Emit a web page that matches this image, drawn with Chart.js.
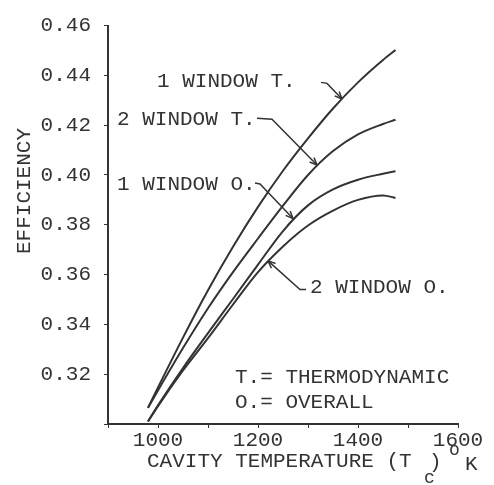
<!DOCTYPE html>
<html>
<head>
<meta charset="utf-8">
<title>Efficiency vs cavity temperature</title>
<script src="https://cdn.jsdelivr.net/npm/chart.js@4/dist/chart.umd.min.js"></script>
<style>
  body { margin: 0; background: #ffffff; }
  #grafico { display: block; }
</style>
</head>
<body>
<canvas id="grafico" width="494" height="485"></canvas>
<script>
// Dados (temperatura em K, eficiencia)
const temperaturas = [980, 1000, 1050, 1100, 1150, 1200, 1250, 1300, 1350, 1400, 1450, 1475];
const umaJanelaT = [0.3065, 0.3147, 0.3347, 0.3537, 0.3712, 0.3872, 0.4017, 0.4147, 0.4267, 0.4372, 0.4462, 0.4502];
const duasJanelasT = [0.3065, 0.3135, 0.3305, 0.3465, 0.3610, 0.3745, 0.3877, 0.4000, 0.4096, 0.4163, 0.4205, 0.4222];
const umaJanelaO = [0.3010, 0.3075, 0.3225, 0.3365, 0.3502, 0.3640, 0.3775, 0.3878, 0.3942, 0.3981, 0.4005, 0.4015];
const duasJanelasO = [0.3010, 0.3072, 0.3215, 0.3345, 0.3480, 0.3610, 0.3713, 0.3797, 0.3857, 0.3900, 0.3918, 0.3908];

// Marcas dos eixos
const ticksX = [1000, 1200, 1400, 1600];
const ticksY = [0.32, 0.34, 0.36, 0.38, 0.40, 0.42, 0.44, 0.46];

// Rotulos das curvas, com posicao e linha de chamada em unidades do grafico
const rotulos = ['1 WINDOW T.', '2 WINDOW T.', '1 WINDOW O.', '2 WINDOW O.'];
const posRotulos = [[998, 0.4376], [918, 0.4224], [918, 0.3964], [1304, 0.3548]];
const chamadas = [
  [[1326, 0.4372], [1338, 0.4368], [1368, 0.4305]],
  [[1198, 0.4228], [1228, 0.4224], [1318, 0.4040]],
  [[1194, 0.3968], [1204, 0.3964], [1270, 0.3825]],
  [[1296, 0.3540], [1284, 0.3540], [1220, 0.3655]]
];
const legenda = ['T.= THERMODYNAMIC', 'O.= OVERALL'];
const posLegenda = [[1154, 0.3188], [1154, 0.3088]];

const cor = '#333333';
const fonte = "'Liberation Mono', 'DejaVu Sans Mono', monospace";

function pontos(valores) {
  return temperaturas.map((t, i) => ({ x: t, y: valores[i] }));
}

function serie(valores) {
  return {
    data: pontos(valores),
    borderColor: cor,
    borderWidth: 2,
    pointRadius: 0,
    cubicInterpolationMode: 'monotone',
    fill: false
  };
}

// Desenha uma seta simples na ponta da chamada
function seta(ctx, x0, y0, x1, y1) {
  const ang = Math.atan2(y1 - y0, x1 - x0);
  const tam = 8;
  ctx.beginPath();
  ctx.moveTo(x1, y1);
  ctx.lineTo(x1 - tam * Math.cos(ang - 0.4), y1 - tam * Math.sin(ang - 0.4));
  ctx.moveTo(x1, y1);
  ctx.lineTo(x1 - tam * Math.cos(ang + 0.4), y1 - tam * Math.sin(ang + 0.4));
  ctx.stroke();
}

const anotacoes = {
  id: 'anotacoes',
  afterDraw(chart) {
    const ctx = chart.ctx;
    const sx = chart.scales.x;
    const sy = chart.scales.y;
    ctx.save();
    ctx.fillStyle = cor;
    ctx.strokeStyle = cor;
    ctx.lineWidth = 1.5;
    ctx.font = '21px ' + fonte;
    ctx.textBaseline = 'middle';
    ctx.textAlign = 'left';

    rotulos.forEach((txt, i) => {
      ctx.fillText(txt, sx.getPixelForValue(posRotulos[i][0]), sy.getPixelForValue(posRotulos[i][1]));
      const pts = chamadas[i].map(p => [sx.getPixelForValue(p[0]), sy.getPixelForValue(p[1])]);
      ctx.beginPath();
      ctx.moveTo(pts[0][0], pts[0][1]);
      for (let k = 1; k < pts.length; k++) {
        ctx.lineTo(pts[k][0], pts[k][1]);
      }
      ctx.stroke();
      const n = pts.length;
      seta(ctx, pts[n - 2][0], pts[n - 2][1], pts[n - 1][0], pts[n - 1][1]);
    });

    legenda.forEach((txt, i) => {
      ctx.fillText(txt, sx.getPixelForValue(posLegenda[i][0]), sy.getPixelForValue(posLegenda[i][1]));
    });

    // Titulo do eixo y
    ctx.save();
    ctx.translate(24, 191);
    ctx.rotate(-Math.PI / 2);
    ctx.textAlign = 'center';
    ctx.fillText('EFFICIENCY', 0, 0);
    ctx.restore();

    // Titulo do eixo x com indice e grau
    ctx.fillText('CAVITY TEMPERATURE (T', 147, 461);
    ctx.fillText(')', 429, 462);
    ctx.fillText('K', 465, 464);
    ctx.font = '18px ' + fonte;
    ctx.fillText('c', 424, 478);
    ctx.fillText('o', 449, 450);
    ctx.restore();
  }
};

new Chart(document.getElementById('grafico'), {
  type: 'line',
  data: {
    datasets: [
      serie(umaJanelaT),
      serie(duasJanelasT),
      serie(umaJanelaO),
      serie(duasJanelasO)
    ]
  },
  options: {
    responsive: false,
    animation: false,
    devicePixelRatio: 1,
    layout: { padding: { left: 0, top: 24, right: 36, bottom: 0 } },
    plugins: {
      legend: { display: false },
      tooltip: { enabled: false }
    },
    scales: {
      x: {
        type: 'linear',
        min: 900,
        max: 1600,
        afterFit: function(s) { s.height = 61; },
        border: { color: cor, width: 2 },
        grid: { drawOnChartArea: false, tickLength: 4, color: cor },
        ticks: {
          stepSize: 100,
          autoSkip: false,
          maxRotation: 0,
          padding: 0,
          color: cor,
          font: { family: fonte, size: 21 },
          callback: v => ticksX.includes(v) ? String(v) : ''
        }
      },
      y: {
        min: 0.30,
        max: 0.46,
        afterFit: function(s) { s.width = 108; },
        border: { color: cor, width: 2 },
        grid: { drawOnChartArea: false, tickLength: 4, color: cor },
        ticks: {
          stepSize: 0.02,
          autoSkip: false,
          padding: 13,
          color: cor,
          font: { family: fonte, size: 21 },
          callback: v => ticksY.some(t => Math.abs(t - v) < 1e-6) ? v.toFixed(2) : ''
        }
      }
    }
  },
  plugins: [anotacoes]
});
</script>
</body>
</html>
